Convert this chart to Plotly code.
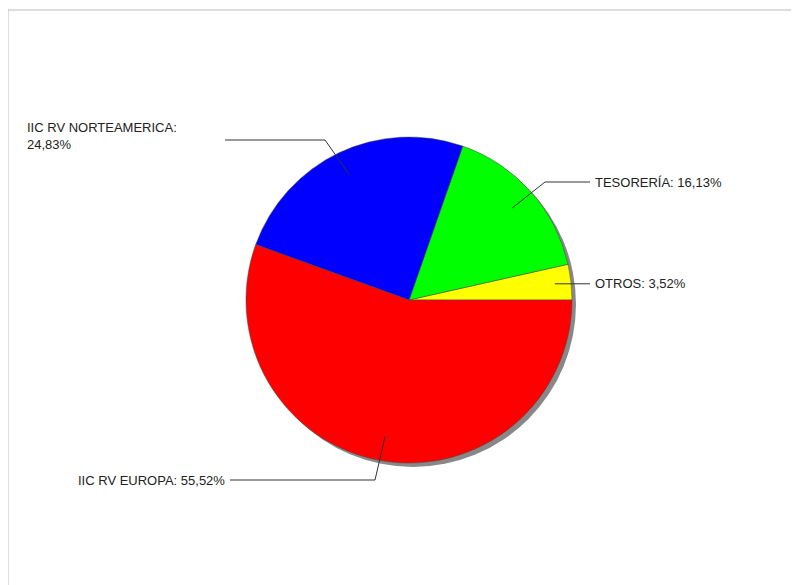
import math
import plotly.graph_objects as go

labels = ["OTROS", "TESORERÍA", "IIC RV NORTEAMERICA", "IIC RV EUROPA"]
values = [3.52, 16.13, 24.83, 55.52]
colors = ["#FFFF00", "#00FF00", "#0000FF", "#FF0000"]
texts = ["OTROS: 3,52%", "TESORERÍA: 16,13%", "IIC RV NORTEAMERICA:<br>24,83%", "IIC RV EUROPA: 55,52%"]

W, H = 799, 585
OFF = 8  # page margin of the browser
cx, cy, r = 409, 300, 163

def px(x):
    return (x - OFF) / W

def py(y):
    return 1 - (y - OFF) / H

total = sum(values)
rot = 90 - values[0] / total * 360

fig = go.Figure()
# shadow
fig.add_trace(go.Pie(values=[1], marker=dict(colors=["#888888"]), textinfo="none",
                     hoverinfo="skip", showlegend=False, sort=False,
                     domain=dict(x=[px(cx - r + 4), px(cx + r + 4)], y=[py(cy + r + 4), py(cy - r + 4)])))
fig.add_trace(go.Pie(labels=labels, values=values, sort=False, direction="counterclockwise",
                     rotation=rot, marker=dict(colors=colors, line=dict(color="#444444", width=0.5)),
                     textinfo="none", showlegend=False,
                     domain=dict(x=[px(cx - r), px(cx + r)], y=[py(cy + r), py(cy - r)])))

# leader lines: (elbow x, elbow y, end x, text side)
leaders = [
    (None, None, 590, "left"),
    (545, 182, 590, "left"),
    (325, 140, 225, "right"),
    (375, 480, 230, "right"),
]
cum = 0
shapes = [dict(type="rect", xref="paper", yref="paper", x0=px(8), x1=px(797), y0=py(590), y1=py(10),
               line=dict(color="#BBBBBB", width=1))]
annotations = []
for v, t, (ex, ey, endx, side) in zip(values, texts, leaders):
    mid = (cum + v / 2) / total * 2 * math.pi
    cum += v
    rr = 0.85 * r if v > 10 else 0.9 * r
    sx = cx + rr * math.cos(mid)
    sy = cy - rr * math.sin(mid)
    if ex is None:
        ex, ey = sx, sy
    pts = [(sx, sy), (ex, ey), (endx, ey)]
    for (a, b), (c, d) in zip(pts[:-1], pts[1:]):
        shapes.append(dict(type="line", xref="paper", yref="paper", x0=px(a), y0=py(b),
                           x1=px(c), y1=py(d), line=dict(color="#333333", width=1)))
    tx = endx + 3 if side == "left" else endx - 3
    if "<br>" in t:
        annotations.append(dict(x=px(25), y=py(ey - 22), xref="paper", yref="paper", text=t,
                                showarrow=False, xanchor="left", yanchor="top", align="left"))
    else:
        annotations.append(dict(x=px(tx), y=py(ey), xref="paper", yref="paper", text=t,
                                showarrow=False, xanchor="left" if side == "left" else "right",
                                yanchor="middle"))

fig.update_layout(width=W, height=H, margin=dict(l=0, r=0, t=0, b=0),
                  paper_bgcolor="white", shapes=shapes, annotations=annotations,
                  font=dict(family="Liberation Sans, Arial", size=13, color="#222222"))
fig.write_html("out.html")
